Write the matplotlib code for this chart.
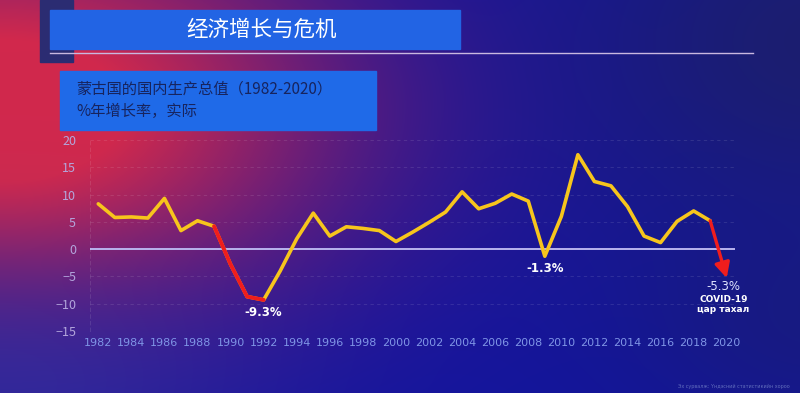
import numpy as np
import matplotlib
matplotlib.use("Agg")
import matplotlib.pyplot as plt
from matplotlib.patches import Rectangle

plt.rcParams['font.family'] = ['Noto Sans CJK SC', 'DejaVu Sans']

# ---------------- data ----------------
years = list(range(1982, 2020))
growth = [8.3, 5.8, 5.9, 5.7, 9.3, 3.4, 5.2, 4.2, -2.8, -8.7, -9.3, -4.0, 1.9,
          6.6, 2.4, 4.1, 3.8, 3.4, 1.4, 3.1, 4.9, 6.8, 10.5, 7.4, 8.4, 10.1,
          8.8, -1.3, 6.0, 17.3, 12.4, 11.6, 7.8, 2.4, 1.2, 5.1, 7.0, 5.2]
crisis_years = [1989, 1990, 1991, 1992]
covid_from = (2019, 5.2)
covid_to = (2020, -5.3)
yticks = [20, 15, 10, 5, 0, -5, -10, -15]
xticks = list(range(1982, 2021, 2))
title = "经济增长与危机"
subtitle1 = "蒙古国的国内生产总值（1982-2020）"
subtitle2 = "%年增长率，实际"
labels = [(1992, -9.3, "-9.3%"), (2009, -1.3, "-1.3%")]

W, H = 800, 393
fig = plt.figure(figsize=(W / 100, H / 100), dpi=100)

# ---------------- background gradient ----------------
bg = fig.add_axes([0, 0, 1, 1])
yy, xx = np.mgrid[0:H, 0:W].astype(float)
red = np.array([0.82, 0.16, 0.30])
base = np.array([0.07, 0.08, 0.62])
w = np.exp(-((xx - 0) ** 2 / 330.0 ** 2 + (yy - 110) ** 2 / 190.0 ** 2))
w = np.clip(w * 1.15, 0, 1)
img = base[None, None, :] * (1 - w[..., None]) + red[None, None, :] * w[..., None]
dark = np.exp(-(((xx - 820) ** 2) / 260.0 ** 2 + ((yy - 40) ** 2) / 200.0 ** 2))
dark2 = np.exp(-(((xx - 820) ** 2) / 200.0 ** 2 + ((yy - 330) ** 2) / 120.0 ** 2))
navy = np.array([0.12, 0.13, 0.38])
img = img * (1 - 0.75 * dark[..., None]) + navy[None, None, :] * 0.75 * dark[..., None]
img = img * (1 - 0.4 * dark2[..., None]) + navy[None, None, :] * 0.4 * dark2[..., None]
bl = np.exp(-(((xx - 0) ** 2) / 250.0 ** 2 + ((yy - 393) ** 2) / 130.0 ** 2))
bcol = np.array([0.22, 0.20, 0.62])
img = img * (1 - 0.6 * bl[..., None]) + bcol[None, None, :] * 0.6 * bl[..., None]
bg.imshow(np.clip(img, 0, 1), extent=[0, W, H, 0], aspect='auto')
bg.set_xlim(0, W)
bg.set_ylim(H, 0)
bg.axis('off')

# title decorations
bg.add_patch(Rectangle((40, 0), 33, 62, color='#2b2c72', zorder=2))
bg.add_patch(Rectangle((50, 10), 410, 39, color='#2264e4', zorder=3))
bg.plot([50, 753], [53, 53], color='#c9b8e0', lw=1.0, zorder=3)
bg.text(262, 30, title, color='white', fontsize=15.5, ha='center', va='center',
        fontweight='medium', zorder=4)

# subtitle box
bg.add_patch(Rectangle((60, 71), 316, 59, color='#1f6ae8', zorder=3))
bg.text(76, 89, subtitle1, color='#17245e', fontsize=11, ha='left', va='center', zorder=4)
bg.text(76, 111, subtitle2, color='#17245e', fontsize=11, ha='left', va='center', zorder=4)

# source note
bg.text(790, 389, "Эх сурвалж: Үндэсний статистикийн хороо", color='#8090d0',
        fontsize=3.5, ha='right', va='bottom', alpha=0.7, family='DejaVu Sans')

# ---------------- chart ----------------
ax = fig.add_axes([90 / W, 1 - 331 / H, 645 / W, 191 / H])
ax.set_facecolor('none')
ax.set_xlim(1981.5, 2020.5)
ax.set_ylim(-15, 20)
for s in ['top', 'right', 'bottom']:
    ax.spines[s].set_visible(False)
ax.spines['left'].set_color('white')
ax.spines['left'].set_alpha(0.10)
ax.spines['left'].set_linestyle((0, (3, 3)))
ax.set_yticks(yticks)
ax.set_xticks(xticks)
ax.tick_params(length=0)
ax.tick_params(axis='y', colors='#b3a6dc', labelsize=9, pad=10)
ax.tick_params(axis='x', colors='#7f95e6', labelsize=8, pad=5)
for t in ax.get_xticklabels():
    t.set_family(['Liberation Sans Narrow', 'DejaVu Sans'])
ax.grid(axis='y', color='white', alpha=0.10, linestyle=(0, (3, 3)), lw=0.8)
ax.axhline(0, color='#b8b4ee', lw=1.4, zorder=2)

ax.plot(years, growth, color='#f7c51c', lw=2.6, solid_joinstyle='round',
        solid_capstyle='round', zorder=3)
ci = [years.index(y) for y in crisis_years]
ax.plot([years[i] for i in ci], [growth[i] for i in ci], color='#f01d1d', lw=2.8,
        solid_capstyle='round', solid_joinstyle='round', zorder=4)
ax.annotate('', xy=covid_to, xytext=covid_from,
            arrowprops=dict(arrowstyle='-|>,head_length=0.9,head_width=0.45',
                            color='#f01d1d', lw=2.4, shrinkA=0, shrinkB=0), zorder=4)

for x, y, s in labels:
    ax.text(x, y - 2.3, s, color='white', fontsize=8.5, fontweight='bold',
            ha='center', va='center', family='DejaVu Sans')
ax.text(2019.8, -6.8, "-5.3%", color='#dfe4ff', fontsize=8.5, ha='center', va='center',
        family='DejaVu Sans')
ax.text(2019.8, -9.2, "COVID-19", color='white', fontsize=6.5, fontweight='bold',
        ha='center', va='center', family='DejaVu Sans')
ax.text(2019.8, -11.0, "цар тахал", color='white', fontsize=6.5, fontweight='bold',
        ha='center', va='center', family='DejaVu Sans')

fig.savefig('out.png', dpi=100)
